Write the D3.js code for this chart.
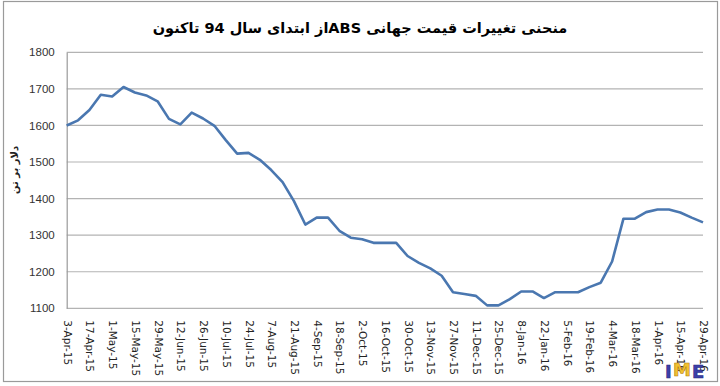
<!DOCTYPE html>
<html>
<head>
<meta charset="utf-8">
<script src="https://cdn.jsdelivr.net/npm/d3@7"></script>
<style>
  body { margin: 0; background: #fff; }
  svg { display: block; }
</style>
</head>
<body>
<div id="chart"></div>
<script>
// Weekly dates (categories)
const dates = [
  "3-Apr-15", "10-Apr-15", "17-Apr-15", "24-Apr-15", "1-May-15", "8-May-15", "15-May-15", "22-May-15",
  "29-May-15", "5-Jun-15", "12-Jun-15", "19-Jun-15", "26-Jun-15", "3-Jul-15", "10-Jul-15", "17-Jul-15",
  "24-Jul-15", "31-Jul-15", "7-Aug-15", "14-Aug-15", "21-Aug-15", "28-Aug-15", "4-Sep-15", "11-Sep-15",
  "18-Sep-15", "25-Sep-15", "2-Oct-15", "9-Oct-15", "16-Oct-15", "23-Oct-15", "30-Oct-15", "6-Nov-15",
  "13-Nov-15", "20-Nov-15", "27-Nov-15", "4-Dec-15", "11-Dec-15", "18-Dec-15", "25-Dec-15", "1-Jan-16",
  "8-Jan-16", "15-Jan-16", "22-Jan-16", "29-Jan-16", "5-Feb-16", "12-Feb-16", "19-Feb-16", "26-Feb-16",
  "4-Mar-16", "11-Mar-16", "18-Mar-16", "25-Mar-16", "1-Apr-16", "8-Apr-16", "15-Apr-16", "22-Apr-16",
  "29-Apr-16"
];

// ABS price, USD per tonne
const prices = [
  1600, 1614, 1642, 1684, 1679, 1705, 1690, 1682, 1666, 1618, 1603, 1635, 1619, 1599, 1560, 1523,
  1525, 1506, 1478, 1445, 1393, 1329, 1348, 1348, 1312, 1293, 1289, 1279, 1279, 1279, 1243, 1224,
  1209, 1189, 1144, 1139, 1134, 1108, 1108, 1125, 1146, 1146, 1128, 1144, 1144, 1144, 1158, 1170,
  1228, 1345, 1345, 1363, 1370, 1370, 1362, 1348, 1335
];

// x labels shown every two weeks
const tickLabels = dates.filter((d, i) => i % 2 === 0);
const yTicks = [1100, 1200, 1300, 1400, 1500, 1600, 1700, 1800];

const title = "منحنی تغییرات قیمت جهانی ABSاز ابتدای سال 94 تاکنون";
const yTitle = "دلار بر تن";

const W = 720, H = 386;
const margin = { top: 52.3, right: 17, bottom: 77.7, left: 66.7 };
const width = W - margin.left - margin.right;
const height = H - margin.top - margin.bottom;

const svg = d3.select("#chart")
  .append("svg")
  .attr("width", W)
  .attr("height", H);

// outer frame
svg.append("rect")
  .attr("x", 3.5).attr("y", 1.5)
  .attr("width", 714).attr("height", 380)
  .attr("fill", "#fff")
  .attr("stroke", "#9a9a9a")
  .attr("stroke-width", 1.2);

// title
svg.append("text")
  .attr("x", 360)
  .attr("y", 33)
  .attr("text-anchor", "middle")
  .attr("direction", "rtl")
  .style("font-family", "'DejaVu Sans', sans-serif")
  .style("font-weight", "bold")
  .style("font-size", "14.5px")
  .attr("fill", "#000")
  .text(title);

const g = svg.append("g")
  .attr("transform", `translate(${margin.left},${margin.top})`);

const x = d3.scalePoint()
  .domain(dates)
  .range([0, width]);

const y = d3.scaleLinear()
  .domain([1100, 1800])
  .range([height, 0]);

// gridlines
g.append("g")
  .selectAll("line")
  .data(yTicks)
  .join("line")
  .attr("x1", 0)
  .attr("x2", width)
  .attr("y1", d => y(d))
  .attr("y2", d => y(d))
  .attr("stroke", "#b3b3b3")
  .attr("stroke-width", 1.2);

// y axis
const yAxis = g.append("g")
  .call(d3.axisLeft(y).tickValues(yTicks).tickFormat(d3.format("d")).tickSize(0).tickPadding(12));
yAxis.select(".domain").attr("stroke", "#9a9a9a").attr("stroke-width", 1.2);
yAxis.selectAll("text")
  .style("font-family", "'Liberation Sans', Arial, sans-serif")
  .style("font-size", "11.5px")
  .attr("fill", "#333");

// x axis
const xAxis = g.append("g")
  .attr("transform", `translate(0,${height})`)
  .call(d3.axisBottom(x).tickValues(tickLabels).tickSize(0));
xAxis.select(".domain").remove();
xAxis.selectAll("text")
  .style("font-family", "'DejaVu Sans', sans-serif")
  .style("font-size", "10.5px")
  .attr("fill", "#222")
  .attr("text-anchor", "start")
  .attr("dy", null)
  .attr("y", 0)
  .attr("transform", "translate(-3.5,12) rotate(90)");

// y axis title
svg.append("text")
  .attr("transform", "translate(18,170) rotate(-90)")
  .attr("text-anchor", "middle")
  .attr("direction", "rtl")
  .style("font-family", "'DejaVu Sans', sans-serif")
  .style("font-weight", "bold")
  .style("font-size", "10px")
  .attr("fill", "#222")
  .text(yTitle);

// price line
const line = d3.line()
  .x((d, i) => x(dates[i]))
  .y(d => y(d));

g.append("path")
  .datum(prices)
  .attr("fill", "none")
  .attr("stroke", "#4a77b0")
  .attr("stroke-width", 2.6)
  .attr("stroke-linejoin", "round")
  .attr("d", line);

// IME logo
const logo = svg.append("g").attr("transform", "translate(665,378)");
const logoParts = [
  { t: "I", x: 0, fill: "#3d3fa8", stroke: "#1f2a80" },
  { t: "M", x: 8, fill: "#f2c230", stroke: "#b57e10" },
  { t: "E", x: 27, fill: "#3d3fa8", stroke: "#1f2a80" }
];
logo.selectAll("text")
  .data(logoParts)
  .join("text")
  .attr("x", d => d.x)
  .attr("y", (d, i) => i === 1 ? -2 : 0)
  .style("font-family", "'DejaVu Sans', sans-serif")
  .style("font-weight", "bold")
  .style("font-size", "18px")
  .attr("fill", d => d.fill)
  .attr("stroke", d => d.stroke)
  .attr("stroke-width", 0.6)
  .text(d => d.t);
</script>
</body>
</html>
